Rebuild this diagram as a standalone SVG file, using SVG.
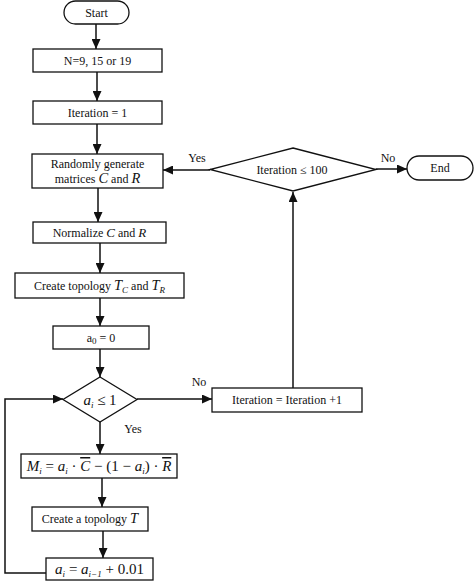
<svg xmlns="http://www.w3.org/2000/svg" width="474" height="581" viewBox="0 0 474 581">
<style>
.b{fill:#fff;stroke:#111;stroke-width:1.3}
.l{fill:none;stroke:#111;stroke-width:1.5}
.t{font-family:"Liberation Serif","Times New Roman",serif;font-size:12px;fill:#111;text-anchor:middle}
.i{font-style:italic;font-size:14.5px}
.m{font-family:"Liberation Serif","Times New Roman",serif;font-size:15px;font-style:italic;fill:#111;text-anchor:middle}
.s{font-size:9px}
.ov{text-decoration:overline}
</style>
<defs>
<marker id="a" markerUnits="userSpaceOnUse" markerWidth="11" markerHeight="9" refX="10" refY="4.5" orient="auto">
<path d="M0,0 L10,4.5 L0,9 z" fill="#111"/>
</marker>
</defs>
<g id="connectors">
<line class="l" x1="96" y1="24" x2="96" y2="49" marker-end="url(#a)"/>
<line class="l" x1="97" y1="72" x2="97" y2="101" marker-end="url(#a)"/>
<line class="l" x1="97" y1="124" x2="97" y2="154" marker-end="url(#a)"/>
<line class="l" x1="98" y1="188" x2="98" y2="222" marker-end="url(#a)"/>
<line class="l" x1="100" y1="243" x2="100" y2="273" marker-end="url(#a)"/>
<line class="l" x1="100" y1="298" x2="100" y2="326" marker-end="url(#a)"/>
<line class="l" x1="100" y1="349" x2="100" y2="377" marker-end="url(#a)"/>
<line class="l" x1="100" y1="422" x2="100" y2="454" marker-end="url(#a)"/>
<line class="l" x1="102" y1="478" x2="102" y2="507" marker-end="url(#a)"/>
<line class="l" x1="103" y1="531" x2="103" y2="558" marker-end="url(#a)"/>
<polyline class="l" points="46,573 5,573 5,399 63,399" marker-end="url(#a)"/>
<line class="l" x1="137" y1="399" x2="212" y2="399" marker-end="url(#a)"/>
<line class="l" x1="293" y1="388" x2="293" y2="192" marker-end="url(#a)"/>
<line class="l" x1="210" y1="170" x2="163" y2="170" marker-end="url(#a)"/>
<line class="l" x1="376" y1="169" x2="407" y2="169" marker-end="url(#a)"/>
<text class="t" x="197" y="162">Yes</text>
<text class="t" x="388" y="162">No</text>
<text class="t" x="199" y="386">No</text>
<text class="t" x="133" y="433">Yes</text>
</g>
<g id="start">
<rect class="b" x="64" y="1" width="65" height="23" rx="11.5"/>
<text class="t" x="96.5" y="17">Start</text>
</g>
<g id="n">
<rect class="b" x="33" y="49" width="129" height="23"/>
<text class="t" x="97.5" y="65">N=9, 15 or 19</text>
</g>
<g id="iter1">
<rect class="b" x="33" y="101" width="129" height="23"/>
<text class="t" x="97.5" y="117">Iteration = 1</text>
</g>
<g id="random">
<rect class="b" x="32" y="154" width="131" height="34"/>
<text class="t" x="97.5" y="168">Randomly generate</text>
<text class="t" x="97.5" y="183">matrices <tspan class="i">C</tspan> and <tspan class="i">R</tspan></text>
</g>
<g id="normalize">
<rect class="b" x="33" y="222" width="133" height="21"/>
<text class="t" x="99.5" y="237">Normalize <tspan class="i" style="font-size:13px">C</tspan> and <tspan class="i" style="font-size:13px">R</tspan></text>
</g>
<g id="topology">
<rect class="b" x="15" y="273" width="169" height="25"/>
<text class="t" x="99.5" y="290">Create topology <tspan class="i">T</tspan><tspan class="i s" dy="3">C</tspan><tspan dy="-3"> and </tspan><tspan class="i">T</tspan><tspan class="i s" dy="3">R</tspan></text>
</g>
<g id="a0">
<rect class="b" x="53" y="326" width="96" height="23"/>
<text class="t" x="101" y="342">a<tspan class="s" dy="2">0</tspan><tspan dy="-2"> = 0</tspan></text>
</g>
<g id="cond">
<polygon class="b" points="100,377 137,399.5 100,422 63,399.5"/>
<text class="m" x="100" y="405">a<tspan class="s" dy="3">i</tspan><tspan dy="-3" style="font-style:normal"> ≤ 1</tspan></text>
</g>
<g id="iterinc">
<rect class="b" x="212" y="388" width="150" height="24"/>
<text class="t" x="287" y="404">Iteration = Iteration +1</text>
</g>
<g id="itercond">
<polygon class="b" points="293,148 376,169.5 293,191 210,169.5"/>
<text class="t" x="292" y="174">Iteration ≤ 100</text>
</g>
<g id="end">
<rect class="b" x="407" y="156" width="66" height="24" rx="12"/>
<text class="t" x="440" y="172">End</text>
</g>
<g id="mi">
<rect class="b" x="21" y="454" width="156" height="24"/>
<text class="m" x="99" y="471">M<tspan class="s" dy="3">i</tspan><tspan dy="-3" style="font-style:normal"> = </tspan>a<tspan class="s" dy="3">i</tspan><tspan dy="-3" style="font-style:normal"> · </tspan><tspan class="ov">C</tspan><tspan style="font-style:normal"> − (1 − </tspan>a<tspan class="s" dy="3">i</tspan><tspan dy="-3" style="font-style:normal">) · </tspan><tspan class="ov">R</tspan></text>
</g>
<g id="topot">
<rect class="b" x="32" y="507" width="116" height="24"/>
<text class="t" x="90" y="523">Create a topology <tspan class="i">T</tspan></text>
</g>
<g id="ai">
<rect class="b" x="46" y="558" width="107" height="22"/>
<text class="m" x="99.5" y="574">a<tspan class="s" dy="3">i</tspan><tspan dy="-3" style="font-style:normal"> = </tspan>a<tspan class="s" dy="3">i−1</tspan><tspan dy="-3" style="font-style:normal"> + 0.01</tspan></text>
</g>
</svg>
